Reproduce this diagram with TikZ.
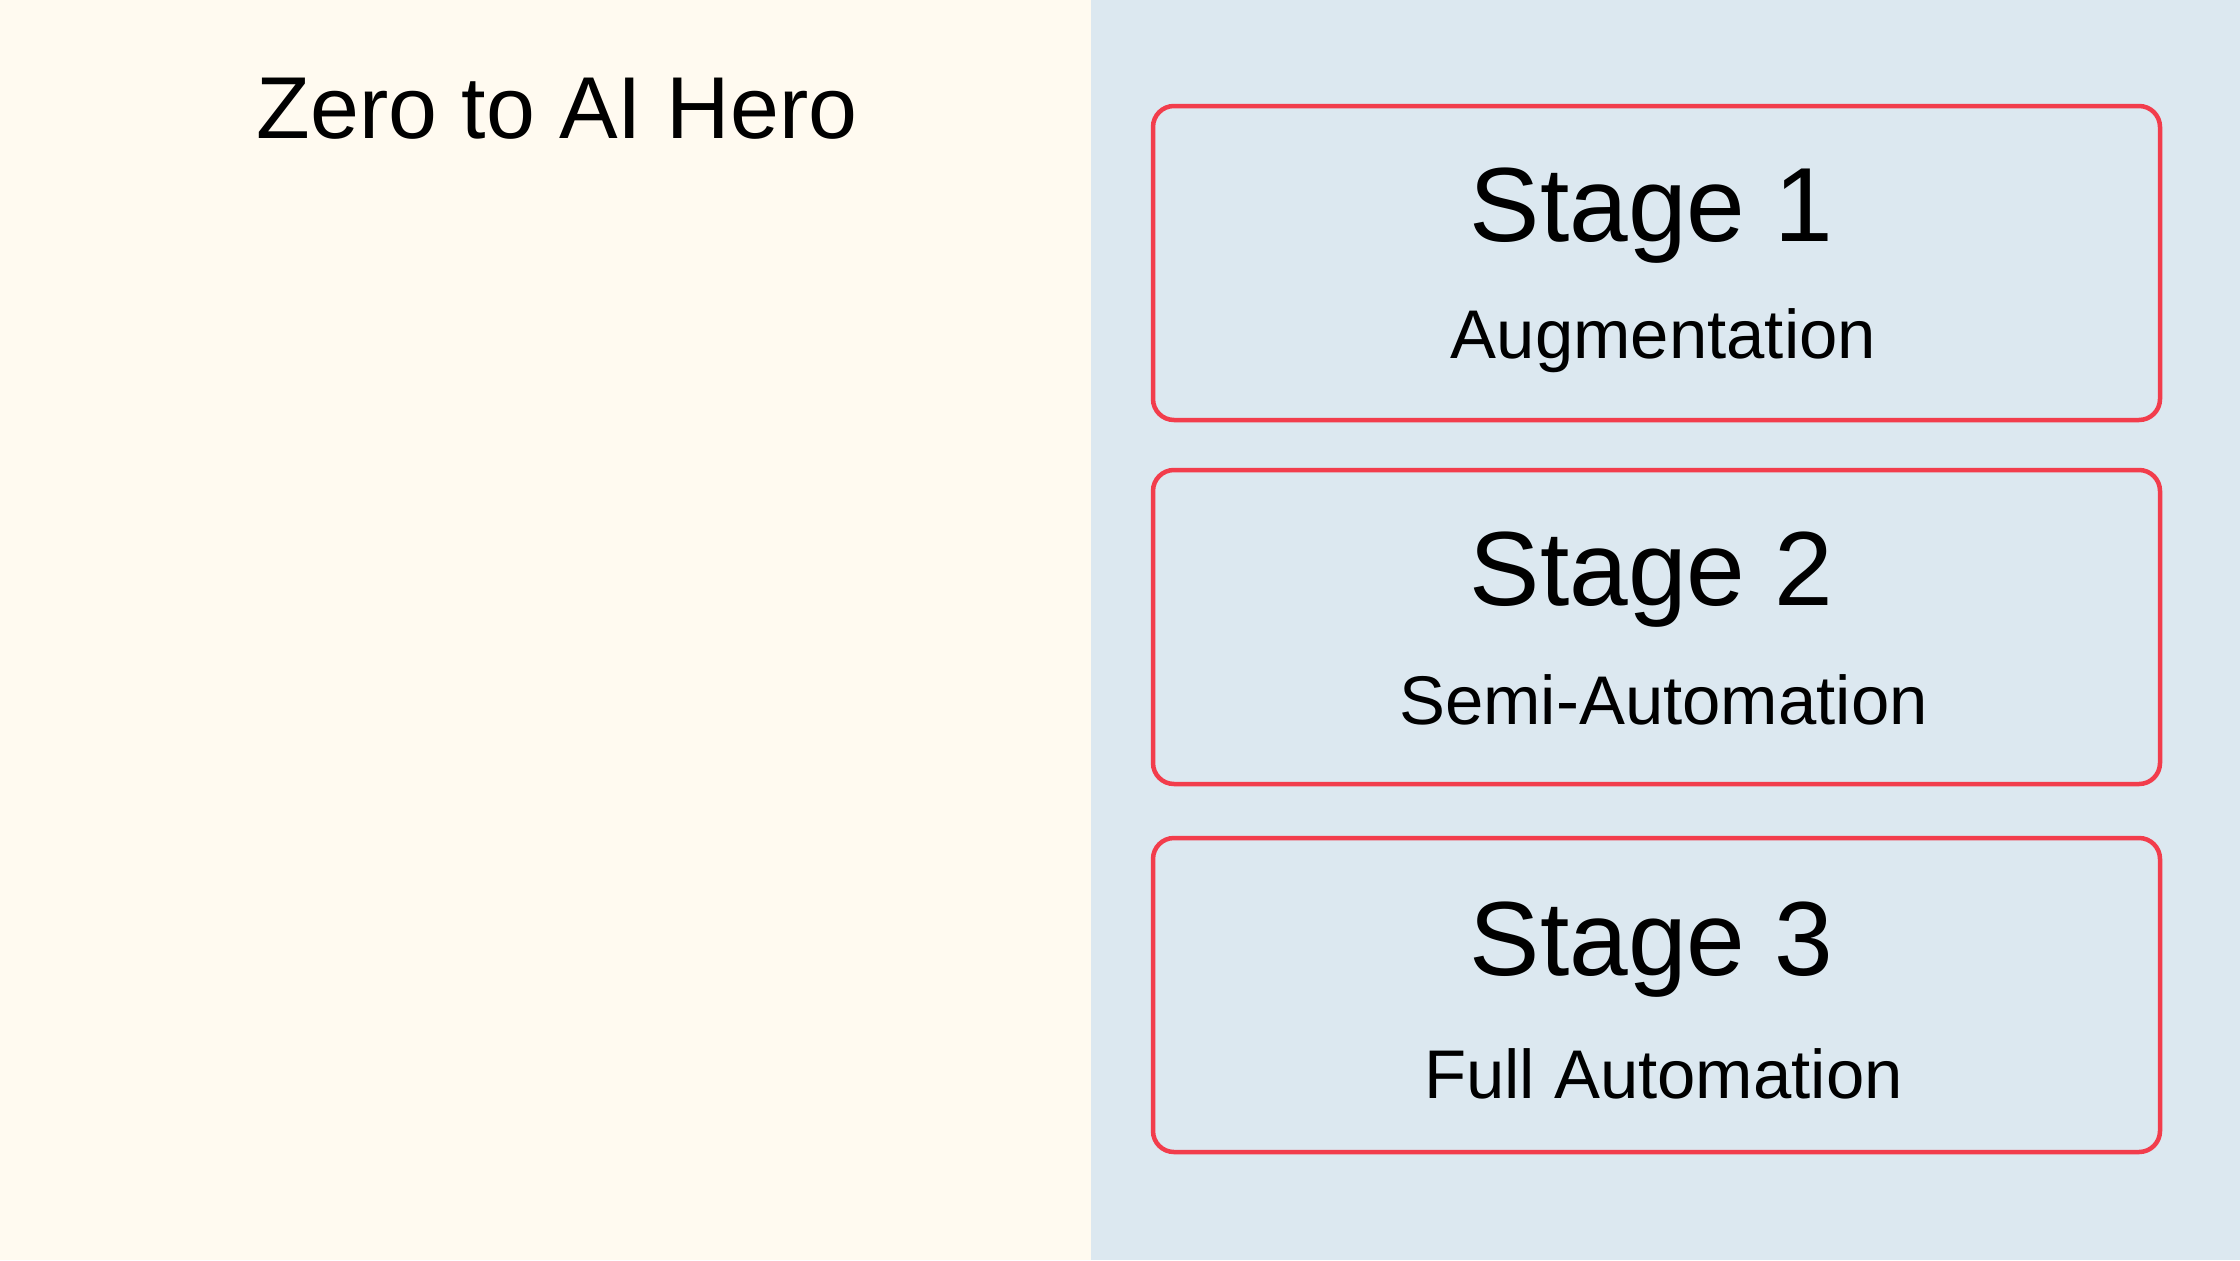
\documentclass[tikz,border=0pt]{standalone}
\usepackage{fontspec}
\setmainfont{Liberation Sans}
\usepackage{xcolor}
\usepackage {tikz}
\usetikzlibrary {positioning}

\definecolor{cream}{HTML}{FFFAF0}
\definecolor{paleblue}{HTML}{DCE8F0}
\definecolor{stagered}{HTML}{F23D4C}

\begin{document}
\begin{tikzpicture}
\useasboundingbox (0,0) rectangle (22.4,12.6);
\fill[cream] (0,0) rectangle (10.91,12.6);
\fill[paleblue] (10.91,0) rectangle (22.4,12.6);

\node[anchor=base, font=\fontsize{25pt}{30pt}\selectfont] (title) at (5.57, 11.22) {Zero to AI Hero};

\begin{scope}[every node/.style={draw=stagered, line width=0.45mm, rounded corners=0.21cm,
                                 minimum width=10.07cm, minimum height=3.14cm}]
   \node (stage1) at (16.565, 9.97) {};
   \node (stage2) at (16.565, 6.33) {};
   \node (stage3) at (16.565, 2.65) {};
\end{scope}

\begin{scope}[every node/.style={anchor=base, font=\fontsize{30pt}{36pt}\selectfont}]
   \node (stage1title) at ([xshift=-0.05cm, yshift=0.22cm]stage1.center) {Stage 1};
   \node (stage2title) at ([xshift=-0.05cm, yshift=0.22cm]stage2.center) {Stage 2};
   \node (stage3title) at ([xshift=-0.05cm, yshift=0.2cm]stage3.center) {Stage 3};
\end{scope}

\begin{scope}[every node/.style={anchor=base, font=\fontsize{19.6pt}{24pt}\selectfont}]
   \node (stage1sub) at ([xshift=0.07cm, yshift=-0.95cm]stage1.center) {Augmentation};
   \node (stage2sub) at ([xshift=0.07cm, yshift=-0.97cm]stage2.center) {Semi-Automation};
   \node (stage3sub) at ([xshift=0.07cm, yshift=-1.03cm]stage3.center) {Full Automation};
\end{scope}
\end{tikzpicture}
\end{document}
